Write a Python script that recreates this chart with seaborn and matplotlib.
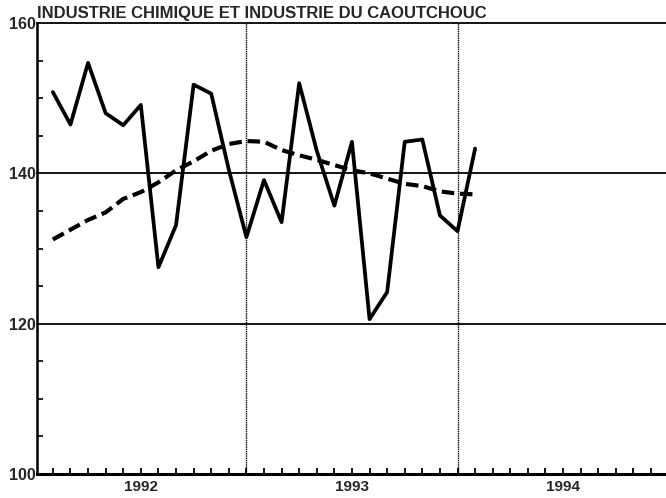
import matplotlib
matplotlib.use("Agg")
import matplotlib.pyplot as plt
import numpy as np
import pandas as pd
import seaborn as sns

# months counted from the start of 1992 (one tick per month)
months = list(range(1, 26))
indice = [150.8, 146.5, 154.7, 148.0, 146.4, 149.1, 127.5, 133.1, 151.8, 150.6,
          140.5, 131.5, 139.1, 133.5, 152.0, 143.0, 135.7, 144.2, 120.6, 124.2,
          144.2, 144.5, 134.4, 132.3, 143.3]
tendance = [131.2, 132.5, 133.8, 134.8, 136.6, 137.5, 138.8, 140.4, 141.6, 143.0,
            143.9, 144.3, 144.2, 143.1, 142.4, 141.8, 141.1, 140.4, 140.0, 139.3,
            138.6, 138.3, 137.6, 137.3, 137.2]
year_labels = ["1992", "1993", "1994"]
year_pos = [6, 18, 30]
y_ticks = [100, 120, 140, 160]

df = pd.DataFrame({"mois": months, "indice": indice, "tendance": tendance})

sns.set_theme(style="white")
plt.rcParams["font.family"] = ["Liberation Sans Narrow", "Liberation Sans", "DejaVu Sans"]

fig = plt.figure(figsize=(6.66, 4.98), dpi=100)
ax = fig.add_axes([0.0556, 0.0482, 0.9444, 0.9056])

sns.lineplot(data=df, x="mois", y="indice", color="black", lw=2.7, ax=ax)
sns.lineplot(data=df, x="mois", y="tendance", color="black", lw=3.0, ax=ax)
ax.lines[-1].set_dashes([3.0, 1.4])

for yv in [120, 140, 160]:
    ax.axhline(yv, color="black", lw=1.3, clip_on=False, zorder=1)
for xv in [12, 24]:
    ax.axvline(xv, color="black", lw=1.0, ls=(0, (1, 0.6)), zorder=1)

ax.set_xlim(0.1, 35.85)
ax.set_ylim(100, 160)

ax.set_yticks(y_ticks)
ax.set_yticklabels([str(v) for v in y_ticks], fontsize=11.5, fontweight="bold")
ax.set_yticks(np.arange(105, 160, 5), minor=True)
ax.set_xticks(year_pos)
ax.set_xticklabels(year_labels, fontsize=11, fontweight="bold")
ax.set_xticks([m for m in range(1, 36) if m not in year_pos], minor=True)

ax.tick_params(axis="x", which="both", direction="in", length=4, width=1.3,
               color="black", bottom=True, pad=4)
ax.tick_params(axis="y", which="major", direction="in", length=0, pad=1)
ax.tick_params(axis="y", which="minor", direction="in", length=4, width=1.2,
               color="black", left=True)

for side in ["top", "right"]:
    ax.spines[side].set_visible(False)
ax.spines["left"].set_color("black")
ax.spines["left"].set_linewidth(1.8)
ax.spines["bottom"].set_color("black")
ax.spines["bottom"].set_linewidth(2.2)

ax.set_xlabel("")
ax.set_ylabel("")
ax.text(0.0, 1.005, "INDUSTRIE CHIMIQUE ET INDUSTRIE DU CAOUTCHOUC",
        transform=ax.transAxes, ha="left", va="bottom",
        fontsize=12, fontweight="bold")

fig.savefig("out.png", dpi=100)
